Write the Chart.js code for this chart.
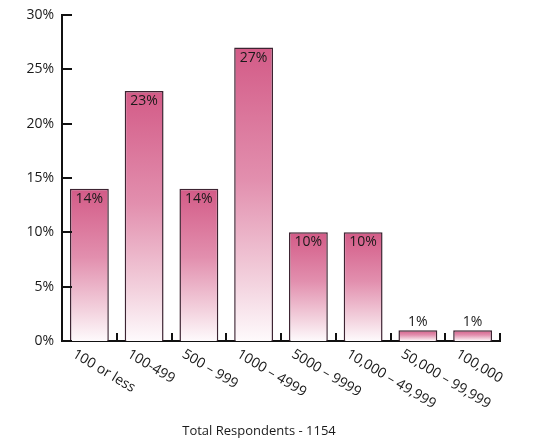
<!DOCTYPE html>
<html>
<head>
<meta charset="utf-8">
<script src="https://cdn.jsdelivr.net/npm/chart.js@4/dist/chart.umd.min.js"></script>
<style>
  html, body { margin: 0; padding: 0; background: #ffffff; }
  #wrap { width: 540px; height: 442px; }
</style>
</head>
<body>
<div id="wrap"><canvas id="c" width="540" height="442"></canvas></div>
<script>
// Company size categories and share of respondents (%)
const categories = ['100 or less', '100-499', '500 – 999', '1000 – 4999', '5000 – 9999', '10,000 – 49,999', '50,000 – 99,999', '100,000'];
const shares = [14, 23, 14, 27, 10, 10, 1, 1];
const yTicks = [0, 5, 10, 15, 20, 25, 30];
const footnote = 'Total Respondents - 1154';

const FONT = '"Open Sans", "DejaVu Sans", sans-serif';

function barGradient(context) {
  const chart = context.chart;
  if (!chart.chartArea) return '#d35b87';
  const y = chart.scales.y;
  const top = y.getPixelForValue(context.raw);
  const base = y.getPixelForValue(0);
  const g = chart.ctx.createLinearGradient(0, top, 0, base);
  g.addColorStop(0, '#d35b87');
  g.addColorStop(0.45, '#e28fae');
  g.addColorStop(0.8, '#f3d2de');
  g.addColorStop(1, '#fefafc');
  return g;
}

// Inward tick marks, value labels, slanted category labels and footnote
const decorations = {
  id: 'decorations',
  afterDatasetsDraw(chart) {
    const { ctx } = chart;
    const x = chart.scales.x;
    const y = chart.scales.y;
    ctx.save();
    ctx.strokeStyle = '#111111';
    ctx.lineWidth = 2;
    // y ticks pointing into the plot
    yTicks.forEach(v => {
      const py = Math.round(y.getPixelForValue(v));
      ctx.beginPath();
      ctx.moveTo(x.left, py);
      ctx.lineTo(x.left + 10, py);
      ctx.stroke();
    });
    // x ticks at category boundaries pointing up
    const n = categories.length;
    for (let i = 1; i <= n; i++) {
      const px = i < n ? (x.getPixelForTick(i - 1) + x.getPixelForTick(i)) / 2 : x.right;
      ctx.beginPath();
      ctx.moveTo(Math.round(px), y.bottom);
      ctx.lineTo(Math.round(px), y.bottom - 8);
      ctx.stroke();
    }
    // value labels
    ctx.fillStyle = '#1a1a1a';
    ctx.font = '14px ' + FONT;
    ctx.textAlign = 'center';
    const meta = chart.getDatasetMeta(0);
    meta.data.forEach((bar, i) => {
      const label = shares[i] + '%';
      if (shares[i] >= 5) {
        ctx.textBaseline = 'top';
        ctx.fillText(label, bar.x, bar.y + 3);
      } else {
        ctx.textBaseline = 'bottom';
        ctx.fillText(label, bar.x, bar.y - 1);
      }
    });
    // slanted category labels
    ctx.font = '14px ' + FONT;
    ctx.textAlign = 'left';
    ctx.textBaseline = 'top';
    categories.forEach((c, i) => {
      const px = x.getPixelForTick(i);
      ctx.save();
      ctx.translate(px - 12, y.bottom + 6);
      ctx.rotate(31 * Math.PI / 180);
      ctx.fillText(c, 0, 0);
      ctx.restore();
    });
    // footnote
    ctx.font = '13px ' + FONT;
    ctx.textAlign = 'center';
    ctx.textBaseline = 'middle';
    ctx.fillText(footnote, 259, 431);
    ctx.restore();
  }
};

new Chart(document.getElementById('c'), {
  type: 'bar',
  data: {
    labels: categories,
    datasets: [{
      data: shares,
      backgroundColor: barGradient,
      borderColor: '#3d2432',
      borderWidth: 1.5,
      categoryPercentage: 1,
      barPercentage: 0.71
    }]
  },
  options: {
    responsive: false,
    animation: false,
    layout: { padding: { left: 0, right: 40, top: 6, bottom: 0 } },
    plugins: { legend: { display: false }, tooltip: { enabled: false } },
    scales: {
      x: {
        grid: { display: false, drawTicks: false },
        border: { display: true, color: '#111111', width: 2 },
        ticks: { display: false },
        afterFit(scale) { scale.height = 101; }
      },
      y: {
        min: 0,
        max: 30,
        grid: { display: false, drawTicks: false },
        border: { display: true, color: '#111111', width: 2 },
        ticks: {
          stepSize: 5,
          padding: 8,
          color: '#1a1a1a',
          font: { family: FONT, size: 14, lineHeight: 1 },
          callback: v => v + '%'
        },
        afterFit(scale) { scale.width = 62; }
      }
    }
  },
  plugins: [decorations]
});
</script>
</body>
</html>
